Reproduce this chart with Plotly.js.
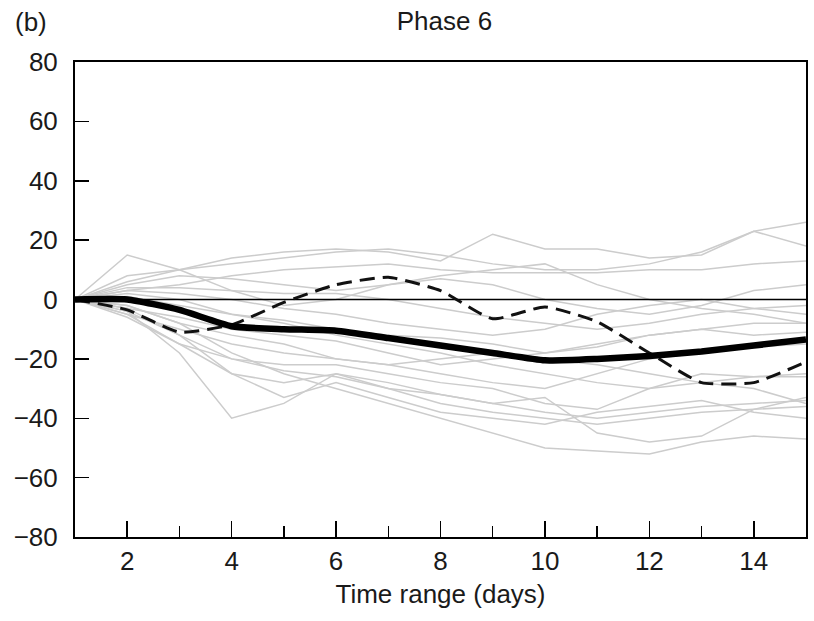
<!DOCTYPE html>
<html>
<head>
<meta charset="utf-8">
<script src="https://cdn.plot.ly/plotly-3.0.1.min.js"></script>
<style>html,body{margin:0;padding:0;background:#fff}#chart{width:814px;height:621px}</style>
</head>
<body>
<div id="chart"></div>
<script>
const days = [1,2,3,4,5,6,7,8,9,10,11,12,13,14,15];
const meanLine = [0, 0, -3.5, -9, -10, -10.5, -13, -15.5, -18, -20.5, -20, -19, -17.5, -15.5, -13.5];
const dashedLine = [0, -3.5, -11, -8.5, -1, 5, 7.5, 3, -6.5, -2.5, -7.5, -18, -28, -28, -21];
const grey01 = [0, 8, 10, 12, 14, 16, 17, 15, 12, 10, 10, 12, 16, 23, 26];
const grey02 = [0, 6, 10, 14, 16, 17, 16, 13, 22, 17, 17, 14, 15, 23, 18];
const grey03 = [0, 3, 5, 8, 10, 11, 12, 10, 9, 9, 9, 10, 10, 12, 13];
const grey04 = [0, 15, 10, 3, -2, 0, 5, 7, 5, 0, -3, -5, -2, 3, 5];
const grey05 = [0, 4, 4, 3, 2, 2, 0, -3, -6, -8, -10, -8, -5, -3, -2];
const grey06 = [0, 2, 0, -5, -7, -10, -12, -13, -15, -18, -15, -12, -10, -8, -8];
const grey07 = [0, -3, -6, -10, -12, -14, -18, -22, -20, -18, -16, -12, -10, -12, -11];
const grey08 = [0, -5, -10, -15, -18, -20, -22, -25, -28, -30, -25, -20, -18, -16, -15];
const grey09 = [0, -5, -15, -20, -22, -22, -25, -28, -30, -35, -37, -30, -25, -26, -26];
const grey10 = [0, -6, -15, -25, -28, -25, -28, -32, -35, -38, -40, -38, -36, -35, -34];
const grey11 = [0, -4, -18, -40, -35, -25, -30, -35, -38, -40, -42, -40, -38, -37, -36];
const grey12 = [0, -3, -12, -25, -33, -28, -33, -38, -40, -42, -38, -36, -34, -38, -40];
const grey13 = [0, -2, -8, -18, -25, -30, -35, -40, -45, -50, -51, -52, -48, -46, -47];
const grey14 = [0, -4, -12, -20, -24, -26, -30, -32, -35, -33, -45, -48, -46, -37, -33];
const grey15 = [0, 1, -2, -5, -8, -12, -15, -18, -22, -25, -28, -30, -28, -26, -25];
const grey16 = [0, 3, 2, 0, -3, -5, -8, -10, -12, -10, -5, -2, 0, -3, -5];
const grey17 = [0, -2, -8, -12, -15, -20, -22, -20, -18, -20, -22, -25, -28, -30, -35];
const grey18 = [0, 5, 8, 7, 5, 3, 5, 8, 10, 12, 5, 0, -3, -5, -8];
const greys = [grey01,grey02,grey03,grey04,grey05,grey06,grey07,grey08,grey09,grey10,grey11,grey12,grey13,grey14,grey15,grey16,grey17,grey18];

const traces = greys.map(g => ({
  x: days, y: g, type: 'scatter', mode: 'lines',
  line: {color: '#cccccc', width: 1.5}, hoverinfo: 'skip', showlegend: false
}));
traces.push({x: [days[0], days[days.length - 1]], y: [0, 0], type: 'scatter', mode: 'lines', line: {color: '#000', width: 1.5}, showlegend: false});
traces.push({x: days, y: dashedLine, type: 'scatter', mode: 'lines',
  line: {color: '#111', width: 3, dash: '15px,8px', shape: 'spline', smoothing: 0.5}, showlegend: false});
traces.push({x: days, y: meanLine, type: 'scatter', mode: 'lines',
  line: {color: '#000', width: 6.5, shape: 'spline', smoothing: 0.5}, showlegend: false});

const fam = 'Liberation Sans, Arial, sans-serif';
const tf = {family: fam, size: 26, color: '#1a1a1a'};
const layout = {
  width: 814, height: 621,
  margin: {l: 75, r: 8, t: 62, b: 84},
  paper_bgcolor: '#fff', plot_bgcolor: '#fff',
  font: tf,
  title: {text: 'Phase 6', x: 0.546, xanchor: 'center', y: 0.967, yanchor: 'middle', font: tf},
  xaxis: {
    range: [1, 15], tick0: 2, dtick: 2, ticks: 'inside', ticklen: 16, tickwidth: 1.5, tickcolor: '#000',
    minor: {dtick: 1, tick0: 1, ticks: 'inside', ticklen: 11, tickwidth: 1.5, tickcolor: '#000', showgrid: false},
    showgrid: false, zeroline: false, showline: true, linecolor: '#000', linewidth: 2, mirror: true,
    title: {text: 'Time range (days)', font: tf, standoff: 10},
    tickfont: tf,
    ticklabelstandoff: 0
  },
  yaxis: {
    range: [-80, 80], dtick: 20, ticks: 'inside', ticklen: 14, tickwidth: 1.5, tickcolor: '#000',
    showgrid: false, zeroline: false, showline: true, linecolor: '#000', linewidth: 2, mirror: true,
    tickfont: tf,
    ticklabelstandoff: 10
  },
  annotations: [{
    text: '(b)', xref: 'paper', yref: 'paper', x: -0.085, y: 1.084, xanchor: 'left', yanchor: 'middle',
    showarrow: false, font: tf
  }]
};
Plotly.newPlot('chart', traces, layout, {displayModeBar: false, staticPlot: true});
</script>
</body>
</html>
